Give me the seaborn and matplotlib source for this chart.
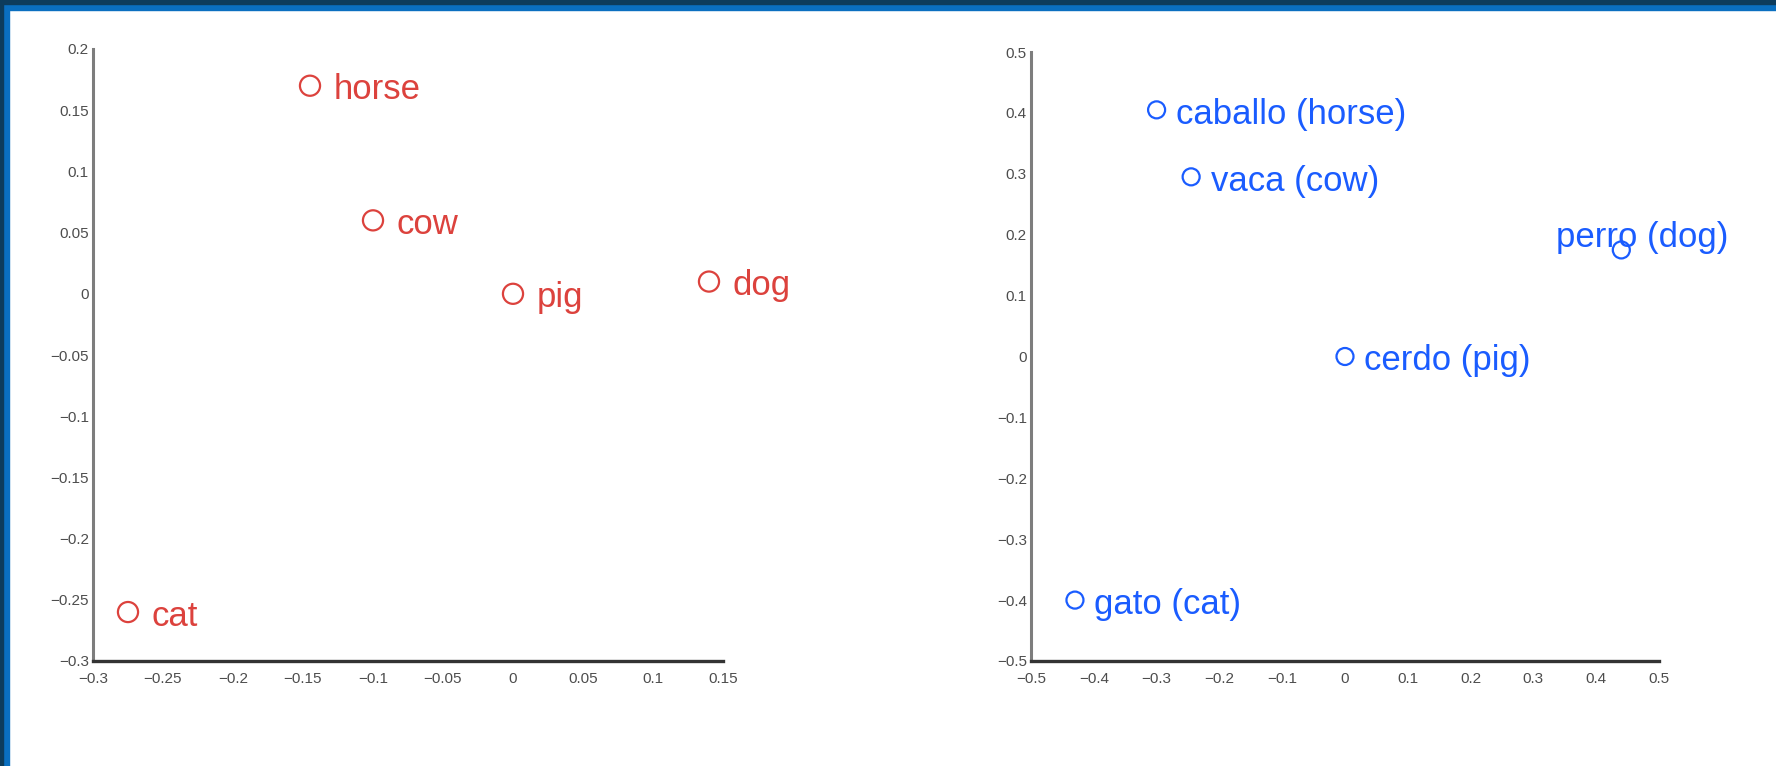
import numpy as np
import pandas as pd
import matplotlib
matplotlib.use("Agg")
import matplotlib.pyplot as plt
from matplotlib.patches import Rectangle
import seaborn as sns

# English word embedding (left) and Spanish word embedding (right)
en_words = ["horse", "cow", "pig", "dog", "cat"]
en_x = [-0.145, -0.10, 0.0, 0.14, -0.275]
en_y = [0.17, 0.06, 0.0, 0.01, -0.26]

es_words = ["caballo (horse)", "vaca (cow)", "cerdo (pig)", "perro (dog)", "gato (cat)"]
es_x = [-0.30, -0.245, 0.0, 0.44, -0.43]
es_y = [0.405, 0.295, 0.0, 0.175, -0.40]

en_xticks = [-0.3, -0.25, -0.2, -0.15, -0.1, -0.05, 0, 0.05, 0.1, 0.15]
en_xlabels = ["−0.3", "−0.25", "−0.2", "−0.15", "−0.1", "−0.05", "0", "0.05", "0.1", "0.15"]
en_yticks = [-0.3, -0.25, -0.2, -0.15, -0.1, -0.05, 0, 0.05, 0.1, 0.15, 0.2]
en_ylabels = ["−0.3", "−0.25", "−0.2", "−0.15", "−0.1", "−0.05", "0", "0.05", "0.1", "0.15", "0.2"]

es_ticks = [-0.5, -0.4, -0.3, -0.2, -0.1, 0, 0.1, 0.2, 0.3, 0.4, 0.5]
es_labels = ["−0.5", "−0.4", "−0.3", "−0.2", "−0.1", "0", "0.1", "0.2", "0.3", "0.4", "0.5"]

RED = "#dc423d"
BLUE = "#1a5cff"

sns.set_style("white")
plt.rcParams["font.family"] = ["Liberation Sans", "DejaVu Sans"]

fig = plt.figure(figsize=(17.76, 7.66), dpi=100)
W, H = 1776, 766


def px_axes(left, top, right, bottom):
    return fig.add_axes([left / W, 1 - bottom / H, (right - left) / W, (bottom - top) / H])


def style_axes(ax, xticks, xlabels, yticks, ylabels):
    ax.set_facecolor("white")
    for s in ["top", "right"]:
        ax.spines[s].set_visible(False)
    ax.spines["left"].set_color("#7d7d7d")
    ax.spines["left"].set_linewidth(2.2)
    ax.spines["bottom"].set_color("#333333")
    ax.spines["bottom"].set_linewidth(2.4)
    ax.set_xticks(xticks)
    ax.set_xticklabels(xlabels)
    ax.set_yticks(yticks)
    ax.set_yticklabels(ylabels)
    ax.set_xlim(xticks[0], xticks[-1])
    ax.set_ylim(yticks[0], yticks[-1])
    ax.tick_params(axis="both", direction="in", length=5, width=1.5, color="#444444",
                   labelsize=11, labelcolor="#4d4d4d")
    ax.tick_params(axis="x", pad=8)
    ax.tick_params(axis="y", pad=3)
    ax.set_xlabel("")
    ax.set_ylabel("")


# left: English
ax1 = px_axes(93, 49, 723, 661)
df_en = pd.DataFrame({"x": en_x, "y": en_y, "word": en_words})
sns.scatterplot(data=df_en, x="x", y="y", ax=ax1, marker="o", s=210,
                facecolor="none", edgecolor=RED, linewidth=1.6, clip_on=False)
for w, x, y in zip(en_words, en_x, en_y):
    ax1.annotate(w, (x, y), xytext=(17, -3), textcoords="offset points",
                 ha="left", va="center", fontsize=25, color=RED)
style_axes(ax1, en_xticks, en_xlabels, en_yticks, en_ylabels)

# right: Spanish
ax2 = px_axes(1031, 52, 1659, 661)
df_es = pd.DataFrame({"x": es_x, "y": es_y, "word": es_words})
sns.scatterplot(data=df_es, x="x", y="y", ax=ax2, marker="o", s=150,
                facecolor="none", edgecolor=BLUE, linewidth=1.6, clip_on=False)
es_offsets = [(14, -3), (14, -3), (14, -3), (-47, 9), (14, -3)]
for w, x, y, off in zip(es_words, es_x, es_y, es_offsets):
    ax2.annotate(w, (x, y), xytext=off, textcoords="offset points",
                 ha="left", va="center", fontsize=25, color=BLUE)
style_axes(ax2, es_ticks, es_labels, es_ticks, es_labels)

# slide frame: dark/blue band on top and left
fig.patches.append(Rectangle((0, 1 - 10 / H), 1, 10 / H, transform=fig.transFigure,
                             color="#0a6fc0", zorder=5))
fig.patches.append(Rectangle((0, 1 - 4 / H), 1, 4 / H, transform=fig.transFigure,
                             color="#0d3c5c", zorder=6))
fig.patches.append(Rectangle((0, 0), 9 / W, 1, transform=fig.transFigure,
                             color="#0a6fc0", zorder=5))
fig.patches.append(Rectangle((0, 0), 3 / W, 1, transform=fig.transFigure,
                             color="#0d3c5c", zorder=6))

fig.savefig("out.png", dpi=100, facecolor="white")
